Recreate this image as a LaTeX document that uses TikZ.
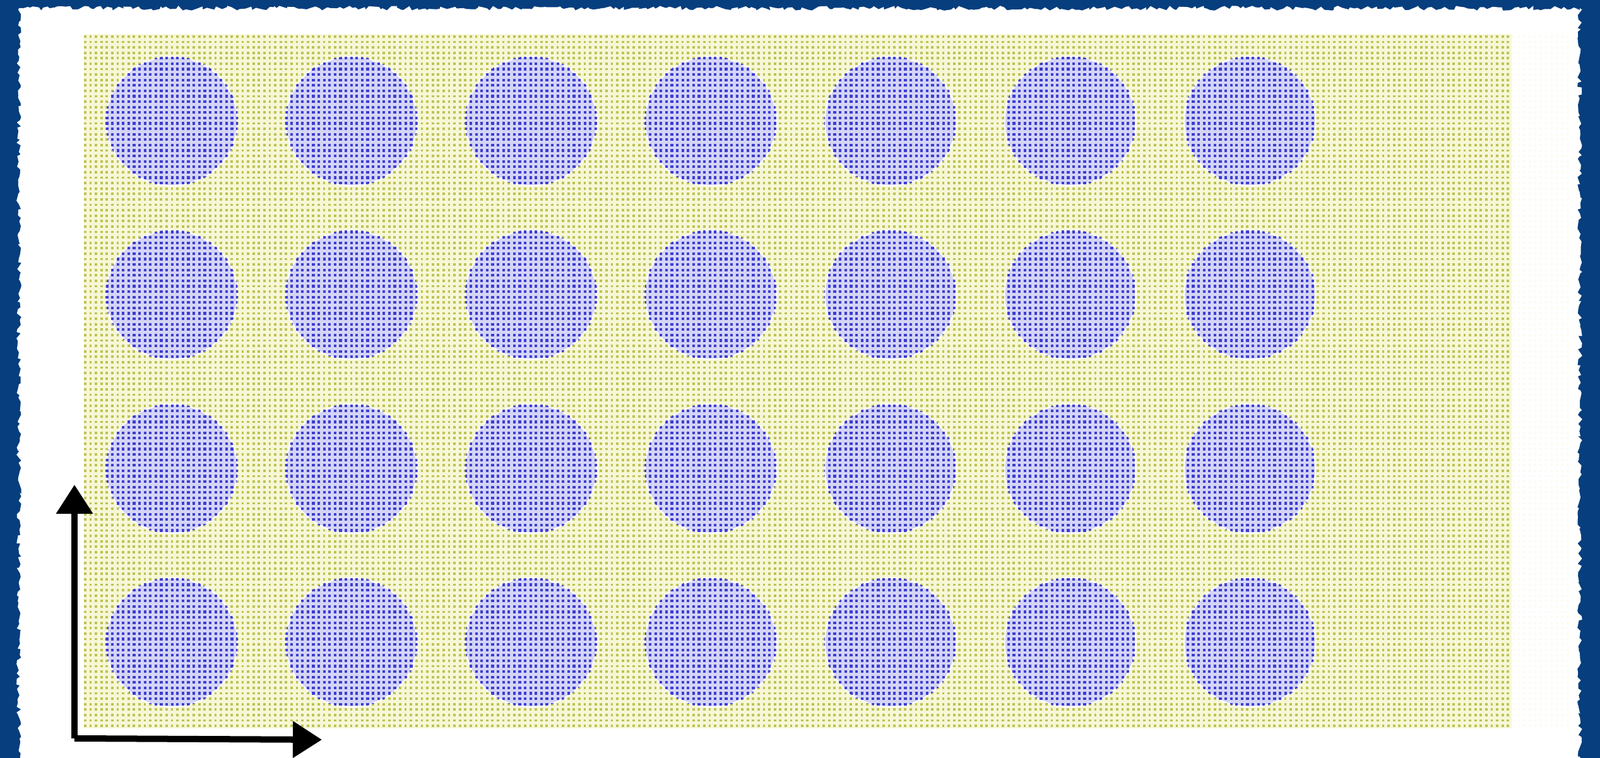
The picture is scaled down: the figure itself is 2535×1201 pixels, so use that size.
\documentclass[tikz,border=0pt]{standalone}
\usetikzlibrary{arrows.meta,decorations.pathmorphing}
\definecolor{frameblue}{RGB}{6,62,126}
\definecolor{dotyellow}{RGB}{190,194,84}
\definecolor{dotblue}{RGB}{62,62,208}
\definecolor{gridbg}{RGB}{246,247,214}
\definecolor{circbg}{RGB}{212,212,246}
\tikzset{
  yellowdots/.style={dotyellow, line width=0.38mm, dash pattern=on 0.38mm off 0.48mm},
  bluedots/.style={dotblue, line width=0.42mm, dash pattern=on 0.42mm off 0.44mm},
  axisarrow/.style={black, line width=1mm, line join=round, -{Triangle[length=4.6mm,width=5.6mm]}},
  tornedge/.style={decorate, decoration={random steps, segment length=1.6pt, amplitude=1.1pt}}
}
\begin{document}
\begin{tikzpicture}[x=0.01cm,y=-0.01cm]
\useasboundingbox (0,0) rectangle (2535,1201);
% frame
\fill[frameblue] (0,0) rectangle (2535,1201);
\fill[white, tornedge] (30,1240) -- (30,13) -- (2503,13) -- (2503,1240) -- cycle;
% dotted field
\fill[gridbg] (133,54) rectangle (2395,1154);
\foreach \r in {0,...,127} {
  \draw[yellowdots] (133,{58+8.6*\r}) -- (2396,{58+8.6*\r});
}
% faint continuation on the right
\foreach \r in {0,...,127} {
  \draw[yellowdots, draw opacity=0.06] (2396,{58+8.6*\r}) -- (2490,{58+8.6*\r});
}
% circles
\foreach \i in {0,...,6} {
  \foreach \j in {0,...,3} {
    \pgfmathsetmacro\cx{272+284.7*\i}
    \pgfmathsetmacro\cy{192+275.3*\j}
    \coordinate (c-\i-\j) at (\cx,\cy);
    \fill[white] (c-\i-\j) ellipse[x radius=105, y radius=103];
    \fill[circbg] (c-\i-\j) ellipse[x radius=103, y radius=101];
    \begin{scope}
      \clip (c-\i-\j) ellipse[x radius=105, y radius=103];
      \pgfmathtruncatemacro\rs{(\cy-106-58)/8.6}
      \pgfmathtruncatemacro\re{(\cy+106-58)/8.6+1}
      \foreach \r in {\rs,...,\re} {
        \draw[bluedots] (133,{58+8.6*\r}) -- ({\cx+110},{58+8.6*\r});
      }
    \end{scope}
  }
}
% axes
\coordinate (o) at (118,1170);
\coordinate (yend) at (118,768);
\coordinate (xend) at (510,1172);
\draw[axisarrow] (o) -- (yend);
\draw[axisarrow] (o) -- (xend);
\end{tikzpicture}
\end{document}
